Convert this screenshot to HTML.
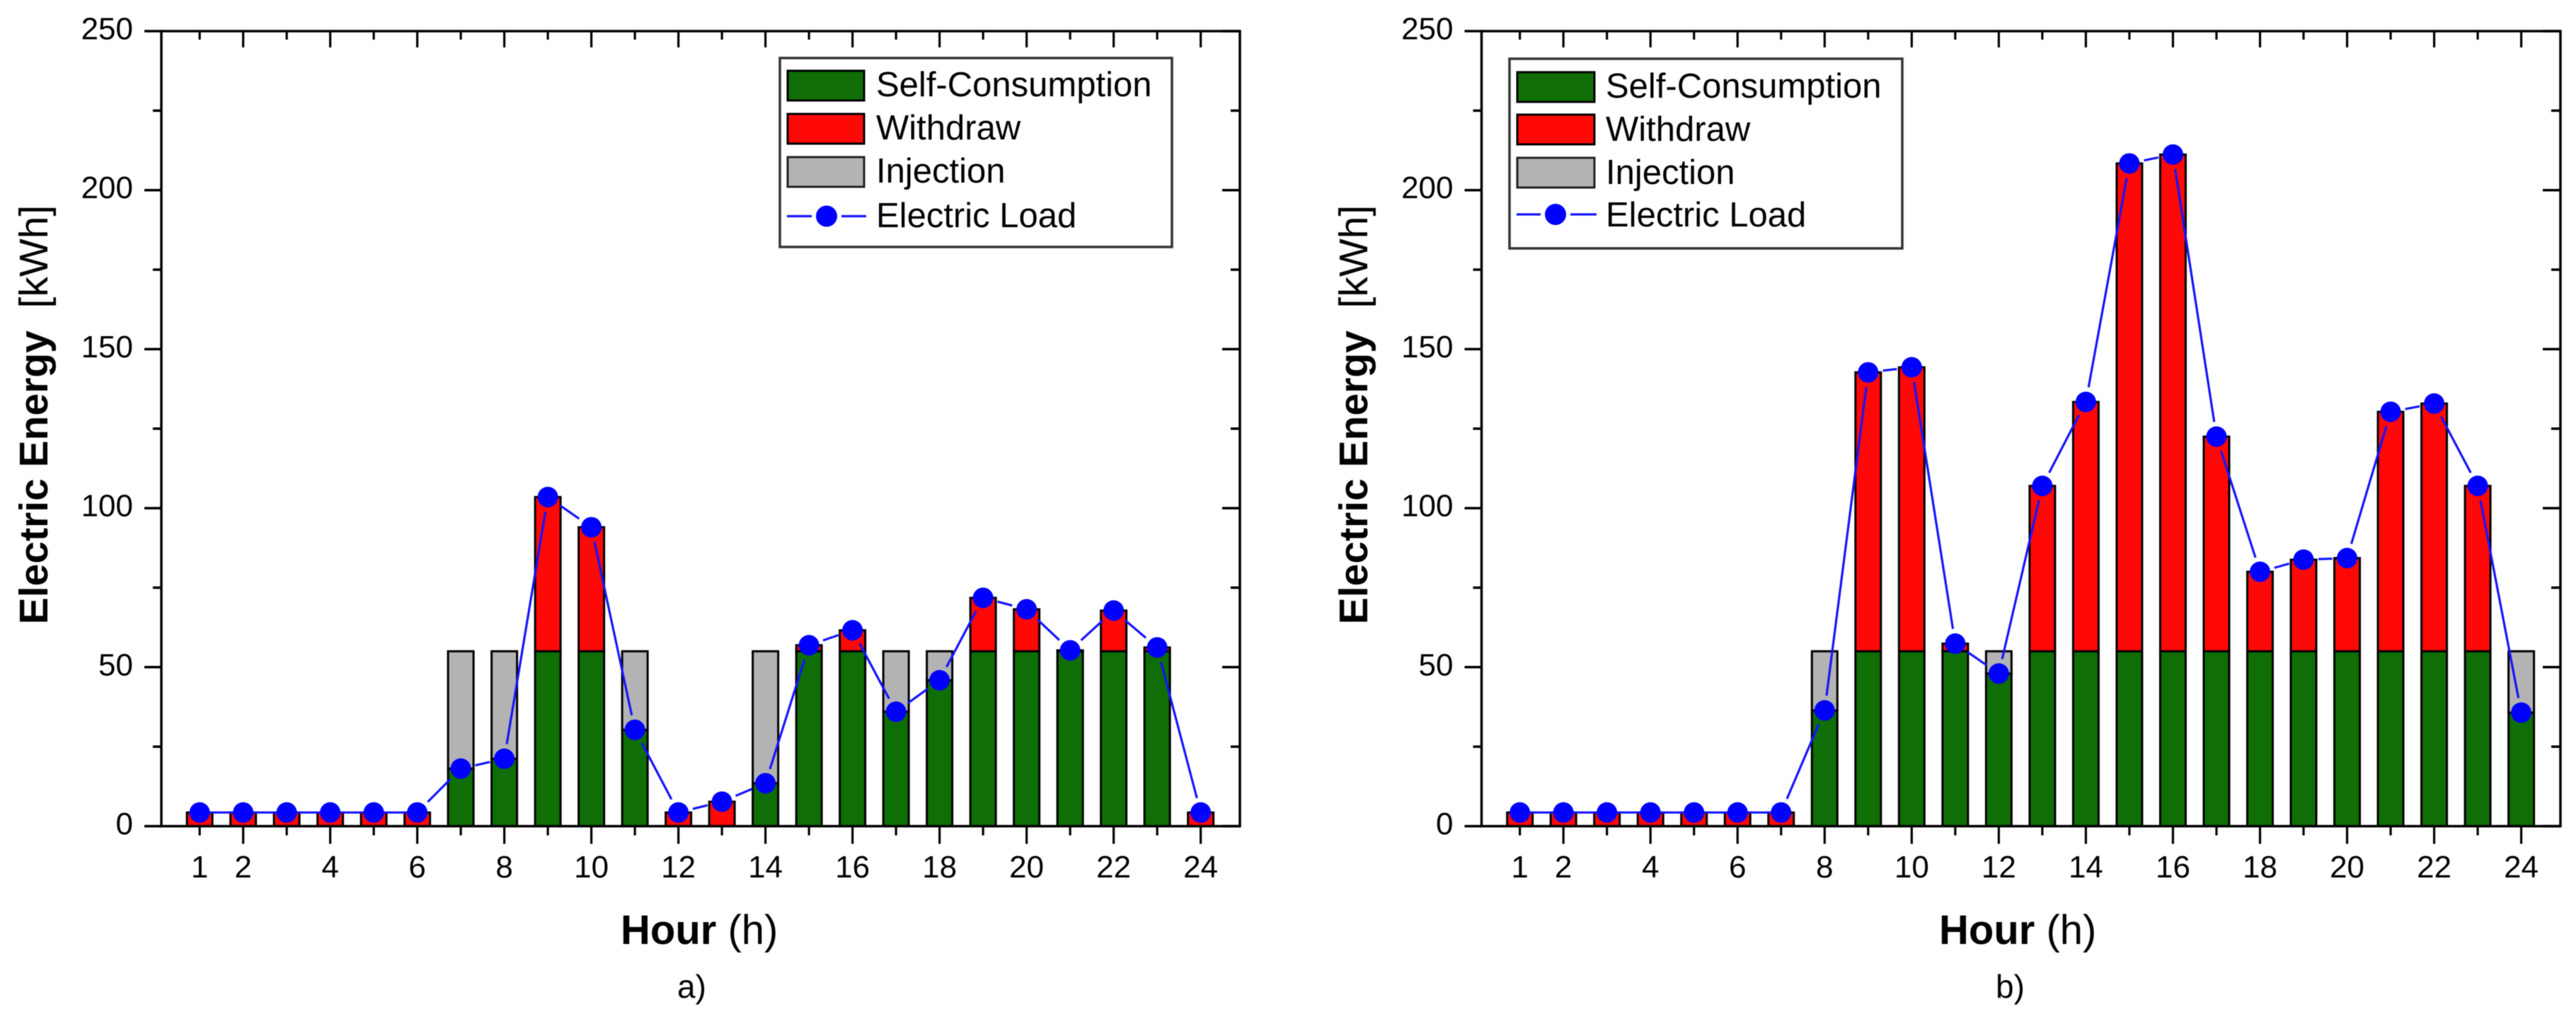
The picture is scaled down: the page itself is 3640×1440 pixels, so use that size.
<!DOCTYPE html>
<html lang="en">
<head>
<meta charset="utf-8">
<title>Electric Energy by Hour</title>
<style>
html,body{margin:0;padding:0;background:#fff;width:3640px;height:1440px;overflow:hidden}
svg{display:block;filter:blur(0.6px)}
text{font-family:"Liberation Sans",Arial,sans-serif;fill:#000}
</style>
</head>
<body>
<svg id="figure" xmlns="http://www.w3.org/2000/svg" width="3640" height="1440" viewBox="0 0 3640 1440"></svg>
<script>
// ---- Data ----
const hours = [1,2,3,4,5,6,7,8,9,10,11,12,13,14,15,16,17,18,19,20,21,22,23,24];
const xTickLabels = [1,2,4,6,8,10,12,14,16,18,20,22,24];
const yTickLabels = [0,50,100,150,200,250];
const yMinorTicks = [25,75,125,175,225];
const seriesNames = ["Self-Consumption","Withdraw","Injection","Electric Load"];

const selfA =     [0,0,0,0,0,0,18.1,21.2,55,55,30.3,0,0,13.5,55,55,36,45.9,55,55,55,55,55,0];
const withdrawA = [4.3,4.3,4.3,4.3,4.3,4.3,0,0,48.5,39,0,4.3,7.7,0,1.9,6.6,0,0,16.8,13.2,0.3,12.8,1.2,4.3];
const injectionA =[0,0,0,0,0,0,36.9,33.8,0,0,24.7,0,0,41.5,0,0,19,9.1,0,0,0,0,0,0];
const loadA =     [4.3,4.3,4.3,4.3,4.3,4.3,18.1,21.2,103.5,94,30.3,4.3,7.7,13.5,56.9,61.6,36,45.9,71.8,68.2,55.3,67.8,56.2,4.3];

const selfB =     [0,0,0,0,0,0,0,36.4,55,55,55,48,55,55,55,55,55,55,55,55,55,55,55,35.7];
const withdrawB = [4.3,4.3,4.3,4.3,4.3,4.3,4.3,0,87.7,89.3,2.4,0,52,78.4,153.4,156.2,67.5,25,28.8,29.3,75.3,77.9,52,0];
const injectionB =[0,0,0,0,0,0,0,18.6,0,0,0,7,0,0,0,0,0,0,0,0,0,0,0,19.3];
const loadB =     [4.3,4.3,4.3,4.3,4.3,4.3,4.3,36.4,142.7,144.3,57.4,48,107,133.4,208.4,211.2,122.5,80,83.8,84.3,130.3,132.9,107,35.7];

// ---- Rendering ----
const NS = "http://www.w3.org/2000/svg";
const root = document.getElementById("figure");
const GREEN = "#0f6e05", RED = "#fe0808", GRAY = "#b3b3b3", BLUE = "#0000ff", LINE = "#1414ff";

function mk(parent, tag, attrs, txt) {
  const el = document.createElementNS(NS, tag);
  for (const k in attrs) el.setAttribute(k, attrs[k]);
  if (txt !== undefined) el.textContent = txt;
  parent.appendChild(el);
  return el;
}

function drawPanel(p) {
  const g = mk(root, "g", {});
  
  

  const yTop = 44, yBase = 1167.5;
  const xDomain = [0.12, 24.9], yDomain = [0, 250];
  const xScale = v => p.left + (v - xDomain[0]) / (xDomain[1] - xDomain[0]) * (p.right - p.left);
  const yScale = v => yBase - (v - yDomain[0]) / (yDomain[1] - yDomain[0]) * (yBase - yTop);
  const barW = 36;

  // stacked bars
  const barsG = mk(g, "g", {});
  
  
  hours.forEach((h, i) => {
    const x = xScale(h) - barW / 2;
    let base = 0;
    [[p.self[i], GREEN, "self-consumption"], [p.withdraw[i], RED, "withdraw"], [p.injection[i], GRAY, "injection"]].forEach(s => {
      if (s[0] > 0) {
        const y1 = yScale(base), y2 = yScale(base + s[0]);
        const r = mk(barsG, "rect", {x: x, y: y2, width: barW, height: y1 - y2, fill: s[1], stroke: "#000", "stroke-width": 3});
        
        
        base += s[0];
      }
    });
  });

  // axes frame
  const axisG = mk(g, "g", {stroke: "#000", fill: "none"});
  
  
  const frame = mk(axisG, "rect", {x: p.left, y: yTop, width: p.right - p.left, height: yBase - yTop, "stroke-width": 3.5});
  
  

  // y ticks
  yTickLabels.forEach(v => {
    const y = yScale(v);
    mk(axisG, "line", {x1: p.left - 24, x2: p.left, y1: y, y2: y, "stroke-width": 3.5});
    mk(axisG, "line", {x1: p.right - 25, x2: p.right, y1: y, y2: y, "stroke-width": 3.5});
    const t = mk(g, "text", {x: p.left - 40, y: y + 11.5, "text-anchor": "end", "font-size": 44}, String(v));
    
    
  });
  yMinorTicks.forEach(v => {
    const y = yScale(v);
    mk(axisG, "line", {x1: p.left - 12, x2: p.left, y1: y, y2: y, "stroke-width": 3.5});
    mk(axisG, "line", {x1: p.right - 13, x2: p.right, y1: y, y2: y, "stroke-width": 3.5});
  });

  // x ticks
  hours.forEach(h => {
    const x = xScale(h), major = h % 2 === 0;
    mk(axisG, "line", {x1: x, x2: x, y1: yBase, y2: yBase + (major ? 25 : 13), "stroke-width": 3.2});
    mk(axisG, "line", {x1: x, x2: x, y1: yTop, y2: yTop + (major ? 23 : 12), "stroke-width": 3.2});
  });
  xTickLabels.forEach(h => {
    const t = mk(g, "text", {x: xScale(h), y: 1240, "text-anchor": "middle", "font-size": 44}, String(h));
    
    
  });

  // load line (with gaps around the markers on sloped segments)
  const lineG = mk(g, "g", {stroke: LINE, "stroke-width": 3.2, fill: "none"});
  
  
  for (let i = 0; i < hours.length - 1; i++) {
    const x1 = xScale(hours[i]), y1 = yScale(p.load[i]), x2 = xScale(hours[i + 1]), y2 = yScale(p.load[i + 1]);
    const len = Math.hypot(x2 - x1, y2 - y1), gap = Math.abs(y2 - y1) < 0.5 ? 0 : 21;
    const ux = (x2 - x1) / len, uy = (y2 - y1) / len;
    mk(lineG, "line", {x1: x1 + ux * gap, y1: y1 + uy * gap, x2: x2 - ux * gap, y2: y2 - uy * gap});
  }
  hours.forEach((h, i) => {
    const c = mk(g, "circle", {cx: xScale(h), cy: yScale(p.load[i]), r: 14.5, fill: BLUE});
    
    
  });

  // axis titles
  const xt = mk(g, "text", {x: p.xTitleX, y: 1334, "font-size": 58});
  
  
  mk(xt, "tspan", {"font-weight": "bold"}, "Hour");
  mk(xt, "tspan", {}, " (h)");

  const yt = mk(g, "text", {transform: "translate(" + p.yTitleX + ",586) rotate(-90)", "text-anchor": "middle", "font-size": 57});
  
  
  mk(yt, "tspan", {"font-weight": "bold"}, "Electric Energy");
  mk(yt, "tspan", {}, "\u00a0\u00a0[kWh]");

  const cap = mk(g, "text", {x: p.captionX, y: 1410, "font-size": 46}, p.caption);
  
  

  // legend
  const L = p.legend;
  const lg = mk(g, "g", {});
  
  
  mk(lg, "rect", {x: L.x, y: L.y, width: L.w, height: L.h, fill: "#fff", stroke: "#333", "stroke-width": 3.5});
  [GREEN, RED, GRAY].forEach((col, i) => {
    const s = mk(lg, "rect", {x: L.swX, y: L.swY[i], width: L.swW, height: 42, fill: col, stroke: i === 2 ? "#222" : "#000", "stroke-width": 3});
    
    
  });
  mk(lg, "line", {x1: L.swX - 1, x2: L.mX - 21, y1: L.lineY, y2: L.lineY, stroke: LINE, "stroke-width": 3.2});
  mk(lg, "line", {x1: L.mX + 21, x2: L.swX + L.swW + 3, y1: L.lineY, y2: L.lineY, stroke: LINE, "stroke-width": 3.2});
  mk(lg, "circle", {cx: L.mX, cy: L.lineY, r: 15, fill: BLUE});
  seriesNames.forEach((n, i) => {
    const t = mk(lg, "text", {x: L.tX, y: L.base[i], "font-size": 49}, n);
    
    
  });
}

drawPanel({
  id: "chart-a", left: 228, right: 1752, xTitleX: 877, yTitleX: 67, captionX: 957, caption: "a)",
  self: selfA, withdraw: withdrawA, injection: injectionA, load: loadA,
  legend: {x: 1102, y: 82, w: 554, h: 267, swX: 1113, swW: 108, swY: [100, 161, 222], lineY: 305.5, mX: 1168, tX: 1238, base: [136, 197, 258, 321]}
});
drawPanel({
  id: "chart-b", left: 2093.5, right: 3618, xTitleX: 2740, yTitleX: 1932, captionX: 2820, caption: "b)",
  self: selfB, withdraw: withdrawB, injection: injectionB, load: loadB,
  legend: {x: 2133, y: 83, w: 555, h: 268, swX: 2144, swW: 109, swY: [102, 162, 223], lineY: 303, mX: 2198, tX: 2269, base: [138, 199, 260, 320]}
});
</script>
</body>
</html>
